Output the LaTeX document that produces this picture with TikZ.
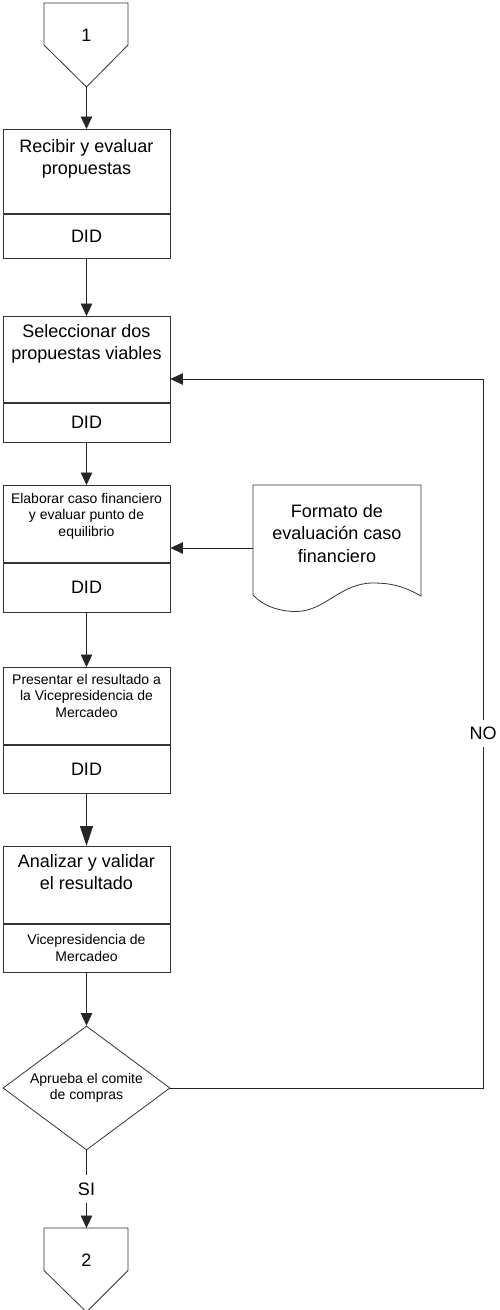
\documentclass[tikz,border=0pt]{standalone}
\usepackage{fontspec}
\setmainfont{Liberation Sans}
\usetikzlibrary{arrows.meta,shapes.geometric}
\begin{document}
\begin{tikzpicture}[x=1pt,y=-1pt,
  outline/.style={draw=black!80,line width=0.8pt},
  stepbox/.style={outline,rectangle,minimum width=167pt,inner sep=0pt,anchor=north},
  bigtext/.style={font=\fontsize{18}{22.5}\selectfont,align=center,inner sep=0pt},
  smalltext/.style={font=\fontsize{14}{16.5}\selectfont,align=center,inner sep=0pt},
  flow/.style={draw=black!85,line width=0.8pt,-{Triangle[length=12.5pt,width=11.5pt]}},
  bigflow/.style={flow,-{Triangle[length=20pt,width=13pt]}},
  tag/.style={font=\fontsize{18}{22}\selectfont,fill=white,inner xsep=1pt,inner ysep=7.5pt},
]
\useasboundingbox (0,0) rectangle (500,1310);

% off-page connector 1
\node[bigtext] (c1) at (86.5,35) {1};
\draw[outline] (44,3) -- (128,3) -- (128,45) -- (86.5,87) -- (44,45) -- cycle;
\coordinate (c1tip) at (86.5,87);

% step 1
\node[stepbox,minimum height=84pt] (b1u) at (86.5,129) {};
\node[stepbox,minimum height=44pt] (b1l) at (b1u.south) {};
\node[bigtext,anchor=north] (t1) at (86.5,139) {Recibir y evaluar\\propuestas};
\node[bigtext] (d1) at (b1l.center) {DID};

% step 2
\node[stepbox,minimum height=86pt] (b2u) at (86.5,316) {};
\node[stepbox,minimum height=39pt] (b2l) at (b2u.south) {};
\node[bigtext,anchor=north] (t2) at (86.5,324) {Seleccionar dos\\propuestas viables};
\node[bigtext] (d2) at (b2l.center) {DID};

% step 3
\node[stepbox,minimum height=77pt] (b3u) at (86.5,485) {};
\node[stepbox,minimum height=49pt] (b3l) at (b3u.south) {};
\node[smalltext,anchor=north] (t3) at (86.5,493) {Elaborar caso financiero\\y evaluar punto de\\equilibrio};
\node[bigtext] (d3) at (b3l.center) {DID};

% document
\draw[outline] (253,485) -- (421,485) -- (421,596)
  .. controls (405,587) and (393,583) .. (373,583)
  .. controls (340,583) and (325,611.5) .. (296,611.5)
  .. controls (278,611.5) and (262,605) .. (253,595) -- cycle;
\node[bigtext,anchor=north] (doc) at (337,504) {Formato de\\evaluación caso\\financiero};
\coordinate (docW) at (253,548);

% step 4
\node[stepbox,minimum height=77pt] (b4u) at (86.5,667) {};
\node[stepbox,minimum height=48pt] (b4l) at (b4u.south) {};
\node[smalltext,anchor=north] (t4) at (86.5,674) {Presentar el resultado a\\la Vicepresidencia de\\Mercadeo};
\node[bigtext] (d4) at (b4l.center) {DID};

% step 5
\node[stepbox,minimum height=77pt] (b5u) at (86.5,846) {};
\node[stepbox,minimum height=48pt] (b5l) at (b5u.south) {};
\node[bigtext,anchor=north] (t5) at (86.5,854) {Analizar y validar\\el resultado};
\node[smalltext] (d5) at (b5l.center) {Vicepresidencia de\\Mercadeo};

% decision
\node[diamond,outline,aspect=1.35,minimum width=167pt,minimum height=124pt,smalltext] (q) at (86.5,1088) {Aprueba el comite\\de compras};

% off-page connector 2
\node[bigtext] (c2) at (86.5,1260) {2};
\draw[outline] (44,1228) -- (128,1228) -- (128,1270.5) -- (86.5,1312) -- (44,1270.5) -- cycle;
\coordinate (c2top) at (86.5,1228);

% connectors
\draw[flow] (c1tip) -- (b1u.north);
\draw[flow] (b1l.south) -- (b2u.north);
\draw[flow] (b2l.south) -- (b3u.north);
\draw[flow] (docW) -- (docW -| b3u.east);
\draw[flow] (b3l.south) -- (b4u.north);
\draw[bigflow] (b4l.south) -- (b5u.north);
\draw[flow] (b5l.south) -- (q.north);
\draw[flow] (q.south) -- node[tag] (si) {SI} (c2top);

\coordinate (loopR) at (483,1088);
\coordinate (loopT) at (483,379);
\draw[flow] (q.east) -- (loopR) -- node[tag] (no) {NO} (loopT) -- (loopT -| b2u.east);
\end{tikzpicture}
\end{document}
